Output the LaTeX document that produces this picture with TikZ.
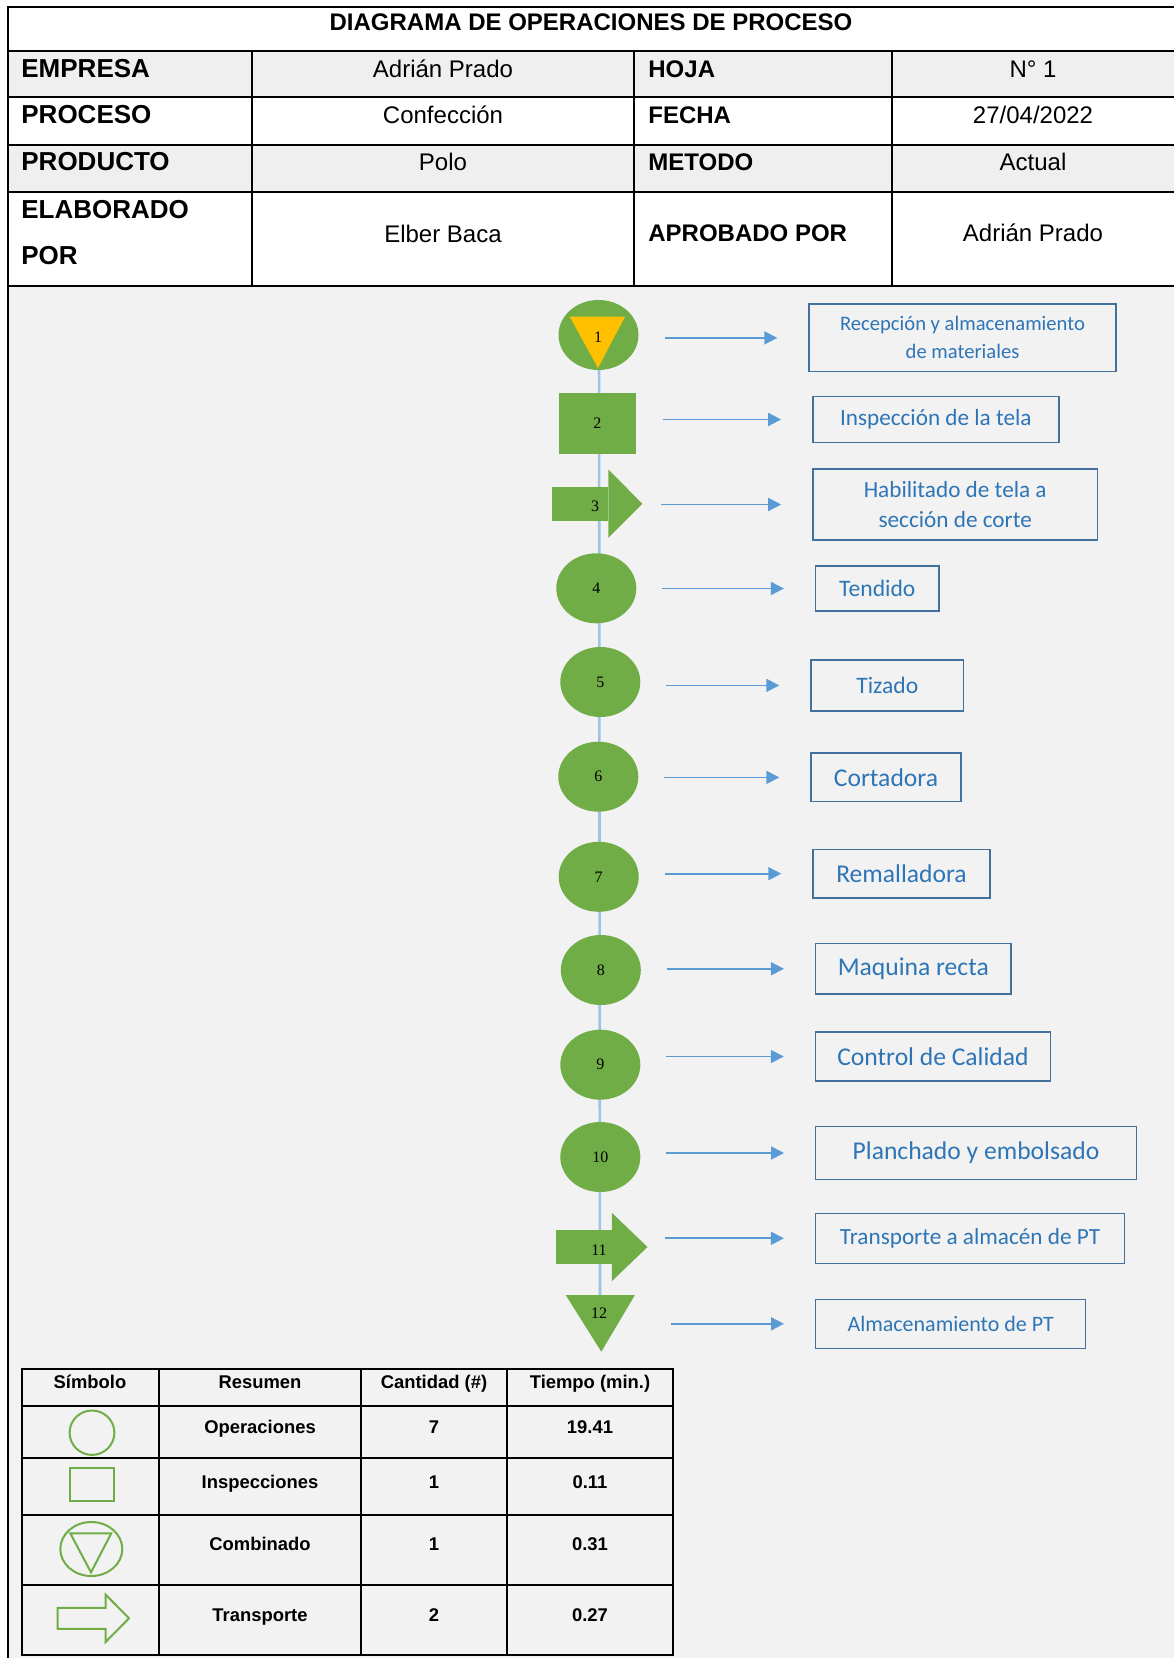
\documentclass[tikz,border=0pt]{standalone}
\usepackage{fontspec}
\setmainfont{Liberation Sans}
\newfontfamily\calibri{Carlito}
\newfontfamily\serifnum{Liberation Serif}
\usepackage{xcolor}
\usepackage{tikz}
\usetikzlibrary{shapes.geometric, arrows.meta, positioning, calc}
\definecolor{grn}{HTML}{70AD47}
\definecolor{yel}{HTML}{FFC000}
\definecolor{bgray}{HTML}{F2F2F2}
\definecolor{hgray}{HTML}{EFEFEF}
\definecolor{lineblue}{HTML}{9DC3E6}
\definecolor{arrblue}{HTML}{5B9BD5}
\definecolor{boxblue}{HTML}{41719C}
\definecolor{txtblue}{HTML}{2E75B6}
\newcommand{\numfont}{\serifnum\fontsize{8}{9}\selectfont}
\newcommand{\boxfont}[1]{\calibri\fontsize{#1}{15}\selectfont}

\begin{document}
\begin{tikzpicture}[
    x=0.5pt, y=-0.5pt,
    title/.style={font=\bfseries\fontsize{12}{14}\selectfont},
    lbl/.style={anchor=west, inner sep=0pt, font=\bfseries\fontsize{13}{23.2}\selectfont},
    lblb/.style={anchor=west, inner sep=0pt, text height=8.6pt, text depth=0pt, font=\bfseries\fontsize{12}{14}\selectfont},
    val/.style={inner sep=0pt, text height=8.6pt, text depth=0pt, font=\fontsize{12}{14}\selectfont},
    frame/.style={line width=1pt},
    opn/.style={ellipse, fill=grn, minimum width=40pt, minimum height=35pt, inner sep=0pt, font=\numfont},
    insp/.style={rectangle, fill=grn, minimum width=38.7pt, minimum height=30.8pt, inner sep=0pt, font=\numfont},
    tbody/.style={rectangle, fill=grn, minimum width=28pt, minimum height=17pt, inner sep=0pt},
    num/.style={inner sep=0pt, font=\numfont},
    stepbox/.style={rectangle, draw=boxblue, line width=0.7pt, text=txtblue, align=center, inner sep=0pt},
    flow/.style={-{Triangle[length=6.5pt,width=6.5pt]}, arrblue, line width=0.9pt, shorten <=33pt, shorten >=15.5pt},
    vline/.style={lineblue, line width=1.3pt},
    tline/.style={line width=1pt},
    cell/.style={inner sep=0pt, text height=6.6pt, text depth=0pt, font=\bfseries\fontsize{9.2}{11}\selectfont},
    sym/.style={draw=grn, line width=1pt, inner sep=0pt}
]
\useasboundingbox (0,0) rectangle (1174,1658);

% backgrounds
\fill[white] (0,0) rectangle (1174,1658);
\fill[hgray] (7.5,51) rectangle (1174,97);
\fill[hgray] (7.5,145) rectangle (1174,192);
\fill[bgray] (7.5,286) rectangle (1174,1658);

% header table
\draw[frame] (1174,7) -- (7.5,7) -- (7.5,1658);
\foreach \y in {51,97,145,192,286} \draw[frame] (7.5,\y) -- (1174,\y);
\foreach \x in {252,634,892} \draw[frame] (\x,51) -- (\x,286);

\node[title] (titulo) at (591,22) {DIAGRAMA DE OPERACIONES DE PROCESO};
\node[lbl] (empresa) at (21,68.5) {EMPRESA};
\node[val] (empresaV) at (443,68.5) {Adrián Prado};
\node[lblb] (hoja) at (648,68.5) {HOJA};
\node[val] (hojaV) at (1033,68.5) {N° 1};
\node[lbl] (proceso) at (21,115) {PROCESO};
\node[val] (procesoV) at (443,115) {Confección};
\node[lblb] (fecha) at (648,115) {FECHA};
\node[val] (fechaV) at (1033,115) {27/04/2022};
\node[lbl] (producto) at (21,162) {PRODUCTO};
\node[val] (productoV) at (443,162) {Polo};
\node[lblb] (metodo) at (648,162) {METODO};
\node[val] (metodoV) at (1033,162) {Actual};
\node[lbl, align=left] (elaborado) at (21,232.7) {ELABORADO\\POR};
\node[val] (elaboradoV) at (443,233.5) {Elber Baca};
\node[lblb] (aprobado) at (648,233) {APROBADO POR};
\node[val] (aprobadoV) at (1033,233) {Adrián Prado};

% main line
\coordinate (top) at (599,335);
\coordinate (bot) at (600,1313);
\draw[vline] (top) -- (bot);

% steps
\node[opn] (n1) at (598.5,335) {};
\fill[yel] ($(n1)+(-28.8,-18.3)$) -- ($(n1)+(26.5,-18.3)$) -- ($(n1)+(-0.5,33)$) -- cycle;
\node[num] (t1) at (598,337) {1};
\node[insp] (n2) at (597.3,423.5) {2};
\node[tbody] (n3) at (580,503.7) {};
\fill[grn] (n3.north east) -- ($(n3.north east)+(0,-16.7)$) -- ($(n3.east)+(34,0)$) -- ($(n3.south east)+(0,16.7)$) -- (n3.south east) -- cycle;
\node[num] (t3) at (595,506.7) {3};
\node[opn] (n4) at (596.3,588.3) {4};
\node[opn] (n5) at (600.3,682) {5};
\node[opn] (n6) at (598.3,776.7) {6};
\node[opn] (n7) at (598.7,876.8) {7};
\node[opn] (n8) at (600.8,970) {8};
\node[opn] (n9) at (600.3,1064.7) {9};
\node[opn] (n10) at (600.3,1157) {10};
\node[tbody] (n11) at (583.5,1247) {};
\fill[grn] (n11.north east) -- ($(n11.north east)+(0,-16.7)$) -- ($(n11.east)+(35.6,0)$) -- ($(n11.south east)+(0,16.7)$) -- (n11.south east) -- cycle;
\node[num] (t11) at (599,1250) {11};
\coordinate (c12) at (600.3,1295);
\fill[grn] ($(c12)+(-34.6,0)$) -- ($(c12)+(34.6,0)$) -- ($(c12)+(1,56.7)$) -- cycle;
\node[num] (n12) at (599,1313) {12};

% descriptions
\node[stepbox, minimum width=153.5pt, minimum height=33.8pt, font=\calibri\fontsize{10.3}{14}\selectfont] (b1) at (962.5,337.9) {Recepción y almacenamiento\\de materiales};
\node[stepbox, minimum width=123pt, minimum height=22.8pt, font=\boxfont{11.6}] (b2) at (935.8,419.5) {Inspección de la tela};
\node[stepbox, minimum width=142.3pt, minimum height=35.5pt, font=\boxfont{11.6}] (b3) at (955.2,504.5) {Habilitado de tela a\\sección de corte};
\node[stepbox, minimum width=61.7pt, minimum height=22.5pt, font=\boxfont{11.8}] (b4) at (877.3,588.5) {Tendido};
\node[stepbox, minimum width=76.3pt, minimum height=25.4pt, font=\boxfont{11.8}] (b5) at (887.3,685.4) {Tizado};
\node[stepbox, minimum width=75pt, minimum height=24.3pt, font=\boxfont{12.8}] (b6) at (886,777.4) {Cortadora};
\node[stepbox, minimum width=88.5pt, minimum height=24.3pt, font=\boxfont{12.8}] (b7) at (901.5,873.7) {Remalladora};
\node[stepbox, minimum width=97.7pt, minimum height=25.2pt, font=\boxfont{12.8}] (b8) at (913.3,968.8) {Maquina recta};
\node[stepbox, minimum width=117.5pt, minimum height=24.5pt, font=\boxfont{12.8}] (b9) at (933,1056.5) {Control de Calidad};
\node[stepbox, minimum width=160.3pt, minimum height=26.3pt, font=\boxfont{12.8}] (b10) at (976,1153) {Planchado y embolsado};
\node[stepbox, minimum width=154.4pt, minimum height=25pt, font=\boxfont{11.6}] (b11) at (970,1238.3) {Transporte a almacén de PT};
\node[stepbox, minimum width=135pt, minimum height=24.5pt, font=\boxfont{11}] (b12) at (950.7,1323.8) {Almacenamiento de PT};

\draw[flow] (n1 |- b1.west) -- (b1.west);
\draw[flow] (n2 |- b2.west) -- (b2.west);
\draw[flow] (t3 |- b3.west) -- (b3.west);
\draw[flow] (n4 |- b4.west) -- (b4.west);
\draw[flow] (n5 |- b5.west) -- (b5.west);
\draw[flow] (n6 |- b6.west) -- (b6.west);
\draw[flow] (n7 |- b7.west) -- (b7.west);
\draw[flow] (n8 |- b8.west) -- (b8.west);
\draw[flow] (n9 |- b9.west) -- (b9.west);
\draw[flow] (n10 |- b10.west) -- (b10.west);
\draw[flow] (t11 |- b11.west) -- (b11.west);
\draw[flow, shorten <=36pt] (n12 |- b12.west) -- (b12.west);

% summary table
\draw[tline] (22,1369) rectangle (673,1655);
\foreach \y in {1406,1458,1515,1585} \draw[tline] (22,\y) -- (673,\y);
\foreach \x in {159,361,507} \draw[tline] (\x,1369) -- (\x,1655);

\node[cell] (hSim) at (90,1382) {Símbolo};
\node[cell] (hRes) at (260,1382) {Resumen};
\node[cell] (hCan) at (434,1382) {Cantidad (\#)};
\node[cell] (hTie) at (590,1382) {Tiempo (min.)};
\node[cell] (rOpe) at (260,1427) {Operaciones};
\node[cell] (cOpe) at (434,1427) {7};
\node[cell] (tOpe) at (590,1427) {19.41};
\node[cell] (rIns) at (260,1482) {Inspecciones};
\node[cell] (cIns) at (434,1482) {1};
\node[cell] (tIns) at (590,1482) {0.11};
\node[cell] (rCom) at (260,1544) {Combinado};
\node[cell] (cCom) at (434,1544) {1};
\node[cell] (tCom) at (590,1544) {0.31};
\node[cell] (rTra) at (260,1615) {Transporte};
\node[cell] (cTra) at (434,1615) {2};
\node[cell] (tTra) at (590,1615) {0.27};

\node[sym, ellipse, minimum width=22.4pt, minimum height=22.2pt] (sOpe) at (92,1432.7) {};
\node[sym, rectangle, minimum width=22pt, minimum height=16.7pt] (sIns) at (91.5,1484.3) {};
\node[sym, ellipse, minimum width=31pt, minimum height=27pt] (sCom) at (91.3,1549) {};
\draw[grn, line width=1pt] ($(sCom)+(-21,-15.7)$) -- ($(sCom)+(20,-15.7)$) -- ($(sCom)+(-0.3,23.3)$) -- cycle;
\coordinate (sTra) at (57.6,1618.3);
\draw[grn, line width=1pt] (sTra) ++(0,-10.5) -- ++(48,0) -- ++(0,-13.2) -- ++(23.4,23.7) -- ++(-23.4,23.7) -- ++(0,-13.2) -- ++(-48,0) -- cycle;
\end{tikzpicture}
\end{document}
